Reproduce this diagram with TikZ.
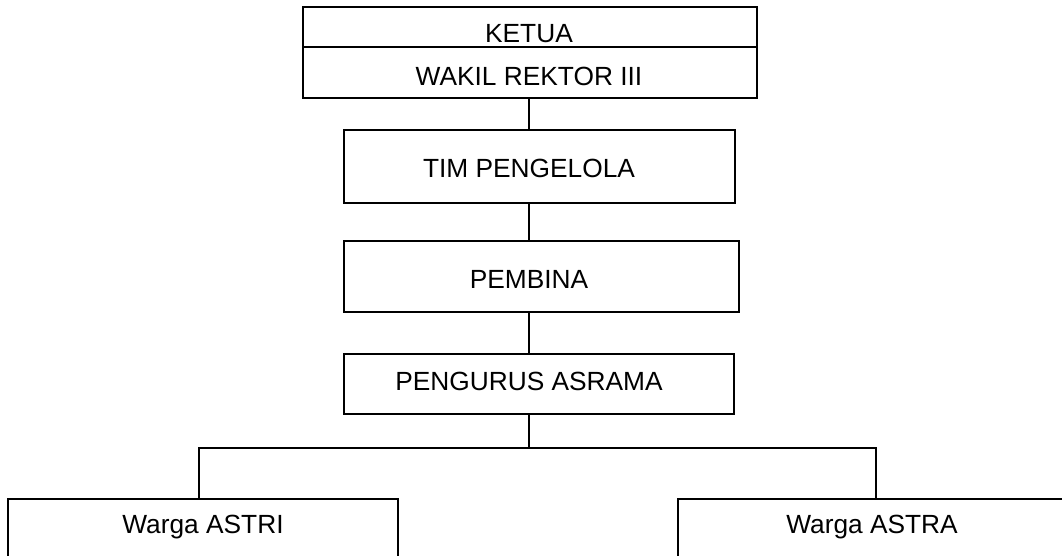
\documentclass[tikz,border=0pt]{standalone}
\usepackage{fontspec}
\setmainfont{Liberation Sans}
\begin{document}
\begin{tikzpicture}[x=1pt,y=-1pt,
  box/.style={draw=black,line width=2pt,inner sep=0pt,rectangle},
  conn/.style={draw=black,line width=2pt},
  lbl/.style={inner sep=0pt,anchor=base,font=\fontsize{26.3}{30}\selectfont}]
\useasboundingbox (0,0) rectangle (1062,556);
\clip (0,0) rectangle (1062,556);
\fill[white] (0,0) rectangle (1062,556);
% boxes
\node[box,minimum width=454,minimum height=40] (ketua) at (530,27) {};
\node[box,minimum width=454,minimum height=51] (wakil) at (530,72.5) {};
\node[box,minimum width=391,minimum height=73] (tim) at (539.5,166.5) {};
\node[box,minimum width=395,minimum height=71] (pembina) at (541.5,276.5) {};
\node[box,minimum width=390,minimum height=60] (pengurus) at (539,384) {};
\node[box,minimum width=390,minimum height=100] (astri) at (203,549) {};
\node[box,minimum width=390,minimum height=100] (astra) at (873,549) {};
% labels
\node[lbl] (tketua) at (529,43) {KETUA};
\node[lbl] (twakil) at (529,86) {WAKIL REKTOR III};
\node[lbl] (ttim) at (529,178) {TIM PENGELOLA};
\node[lbl] (tpembina) at (529,288) {PEMBINA};
\node[lbl] (tpengurus) at (529,390) {PENGURUS ASRAMA};
\node[lbl] (tastri) at (203,533) {Warga ASTRI};
\node[lbl] (tastra) at (872,533) {Warga ASTRA};
% connectors
\coordinate (j) at (529,448);
\coordinate (jl) at (199,448);
\coordinate (jr) at (876,448);
\draw[conn] (wakil.south -| j) -- (tim.north -| j);
\draw[conn] (tim.south -| j) -- (pembina.north -| j);
\draw[conn] (pembina.south -| j) -- (pengurus.north -| j);
\draw[conn] (pengurus.south -| j) -- (j);
\draw[conn] (astri.north -| jl) -- (jl) -- (jr) -- (astra.north -| jr);
\end{tikzpicture}
\end{document}
